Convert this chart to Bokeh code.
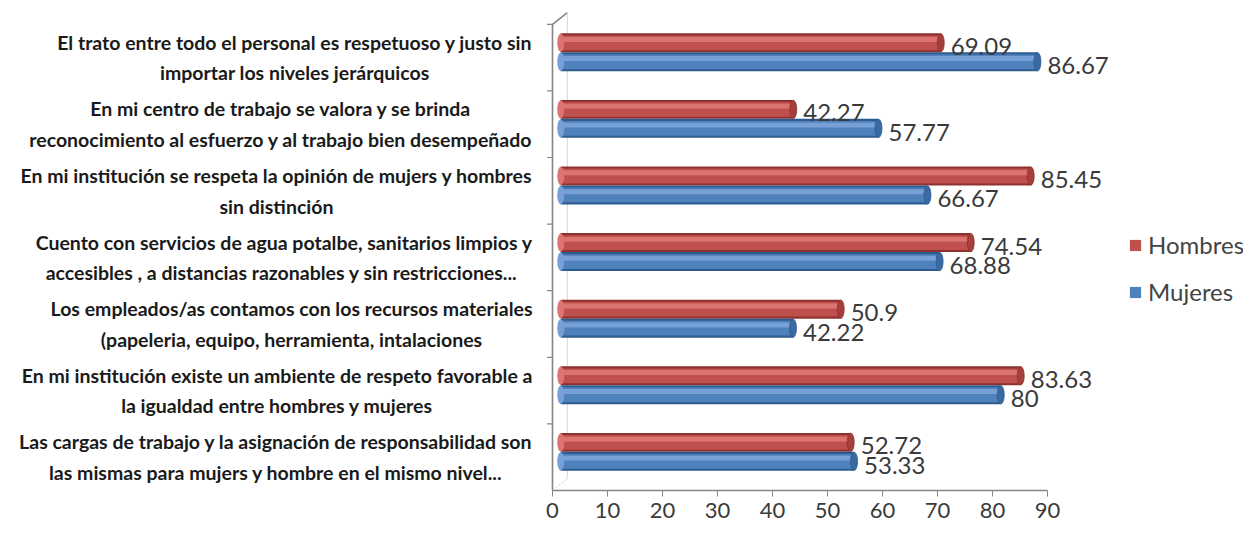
from bokeh.plotting import figure
from bokeh.models import Range1d, LinearAxis, FixedTicker, Legend, LegendItem, ColumnDataSource
from bokeh.core.properties import value
from bokeh.embed import file_html
from bokeh.resources import INLINE

# ---------------- data (top to bottom, as in the reference) ----------------
categories = [
    "El trato entre todo el personal es respetuoso y justo sin\nimportar los niveles jerárquicos",
    "En mi centro de trabajo se valora y se brinda\nreconocimiento al esfuerzo y al trabajo bien desempeñado",
    "En mi institución se respeta la opinión de mujers y hombres\nsin distinción",
    "Cuento con servicios de agua potalbe, sanitarios limpios y\naccesibles , a distancias razonables  y sin restricciones...",
    "Los empleados/as contamos con los recursos materiales\n(papeleria, equipo, herramienta, intalaciones",
    "En mi institución existe un ambiente de respeto favorable a\nla igualdad entre hombres y mujeres",
    "Las cargas de trabajo y la asignación de responsabilidad son\nlas mismas para mujers y hombre en el mismo nivel...",
]
hombres = [69.09, 42.27, 85.45, 74.54, 50.9, 83.63, 52.72]
mujeres = [86.67, 57.77, 66.67, 68.88, 42.22, 80, 53.33]
series_names = ["Hombres", "Mujeres"]
x_ticks = [0, 10, 20, 30, 40, 50, 60, 70, 80, 90]

# ---------------- layout constants ----------------
W, H = 1243, 529
PX_PER_UNIT = 5.5          # horizontal pixels per value unit
X0_PX = 552                # canvas x of value 0
PX_PER_CAT = 66.6          # vertical pixels per category
AXIS_PANEL = 39
FRAME_H = H - AXIS_PANEL
DX, DY = 1.5, 0.08         # 3D depth offset of the bars
BX, BY = 2.7, 0.175        # 3D depth offset of the back wall
BAR_H = 0.285
FONT = "Lato"

n = len(categories)
x_start = -X0_PX / PX_PER_UNIT
x_end = (W - X0_PX) / PX_PER_UNIT
y_end = FRAME_H / PX_PER_CAT

p = figure(width=W, height=H, output_backend="svg", toolbar_location=None,
           x_range=Range1d(x_start, x_end), y_range=Range1d(0, y_end),
           x_axis_location=None, y_axis_location=None,
           min_border_left=0, min_border_right=0, min_border_top=0,
           min_border_bottom=AXIS_PANEL)
p.outline_line_color = None
p.grid.visible = False
p.background_fill_color = "white"
p.border_fill_color = "white"

p.extra_x_ranges = {"bar": Range1d(x_start - DX, x_end - DX)}
p.extra_y_ranges = {"bar": Range1d(0 - DY, y_end - DY)}

# ---------------- 3D wall decoration ----------------
wall = "#858585"
p.segment(x0=[0], y0=[0], x1=[0], y1=[n], line_color=wall, line_width=1.6)
p.segment(x0=[0], y0=[n], x1=[BX], y1=[n + BY], line_color=wall, line_width=1.6)
p.segment(x0=[BX], y0=[BY], x1=[BX], y1=[n + BY], line_color="#d6d6d6", line_width=1)
p.segment(x0=[0], y0=[0], x1=[BX], y1=[BY], line_color="#c8c8c8", line_width=1, line_dash="2 2")
bounds = list(range(1, n + 1))
p.segment(x0=[0] * len(bounds), y0=bounds, x1=[-1.0] * len(bounds), y1=bounds,
          line_color=wall, line_width=1.2)

# ---------------- bars ----------------
ypos = [n - 1 - i + 0.5 for i in range(n)]
y_h = [y + BAR_H / 2 for y in ypos]
y_m = [y - BAR_H / 2 for y in ypos]

def cyl(yv, vals, dark, main, light, cap):
    src = ColumnDataSource(dict(y=yv, v=vals))
    kw = dict(x_range_name="bar", y_range_name="bar", source=src)
    p.hbar(y="y", left=0, right="v", height=BAR_H, fill_color=dark, line_color=None, **kw)
    r = p.hbar(y="y", left=0, right="v", height=BAR_H * 0.78, fill_color=main, line_color=None, **kw)
    src_hi = ColumnDataSource(dict(y=[v + BAR_H * 0.17 for v in yv], v=vals))
    p.hbar(y="y", left=0, right="v", height=BAR_H * 0.26, fill_color=light, line_color=None,
           x_range_name="bar", y_range_name="bar", source=src_hi)
    p.ellipse(x="v", y="y", width=7, height=BAR_H * 0.97, width_units="screen",
              fill_color=cap, line_color=dark, line_width=0.8, **kw)
    p.ellipse(x=0, y="y", width=7, height=BAR_H * 0.97, width_units="screen",
              fill_color=light, line_color=None, **kw)
    return r

r_h = cyl(y_h, hombres, "#8e3230", "#c0504d", "#dc7572", "#a53f3c")
r_m = cyl(y_m, mujeres, "#2f5c90", "#4f81bd", "#77a1d6", "#3b6aa2")

# ---------------- value labels ----------------
for yv, vals, dy in ((y_h, hombres, 3.5), (y_m, mujeres, 4)):
    src = ColumnDataSource(dict(y=yv, v=vals, t=[f"{v:g}" for v in vals]))
    p.text(x="v", y="y", text="t", source=src, x_range_name="bar", y_range_name="bar",
           x_offset=10, y_offset=dy, text_baseline="middle", text_align="left",
           text_font=value(FONT), text_font_size="24px", text_color="#3a3a3a")

# ---------------- category labels (centred lines, block right-aligned at the wall) ----------------
LABEL_RIGHT = -3.64    # value units
src_l = ColumnDataSource(dict(x=[LABEL_RIGHT] * n, y=ypos, t=categories))
p.text(x="x", y="y", text="t", source=src_l, anchor="center_right", text_align="center",
       text_baseline="middle", text_line_height=1.33,
       text_font=value(FONT), text_font_style="bold", text_font_size="19.5px",
       text_color="#1a1a1a")

# ---------------- x axis ----------------
ax = LinearAxis(ticker=FixedTicker(ticks=x_ticks), bounds=(0, 90))
ax.axis_line_color = "#868686"
ax.axis_line_width = 1.5
ax.major_tick_line_color = "#868686"
ax.major_tick_in = 0
ax.major_tick_out = 6
ax.minor_tick_line_color = None
ax.major_label_standoff = 6
ax.major_label_text_font = FONT
ax.major_label_text_font_size = "22px"
ax.major_label_text_color = "#3a3a3a"
p.add_layout(ax, "below")

# ---------------- legend ----------------
legend = Legend(items=[LegendItem(label=series_names[0], renderers=[r_h]),
                       LegendItem(label=series_names[1], renderers=[r_m])],
                location=(1128, 184), orientation="vertical",
                glyph_width=14, glyph_height=14, spacing=18, padding=0, margin=0,
                label_text_font=FONT, label_text_font_size="24px", label_text_color="#444444",
                label_standoff=6, border_line_color=None, background_fill_alpha=0)
p.add_layout(legend)

open("out.html", "w").write(file_html(p, INLINE))
